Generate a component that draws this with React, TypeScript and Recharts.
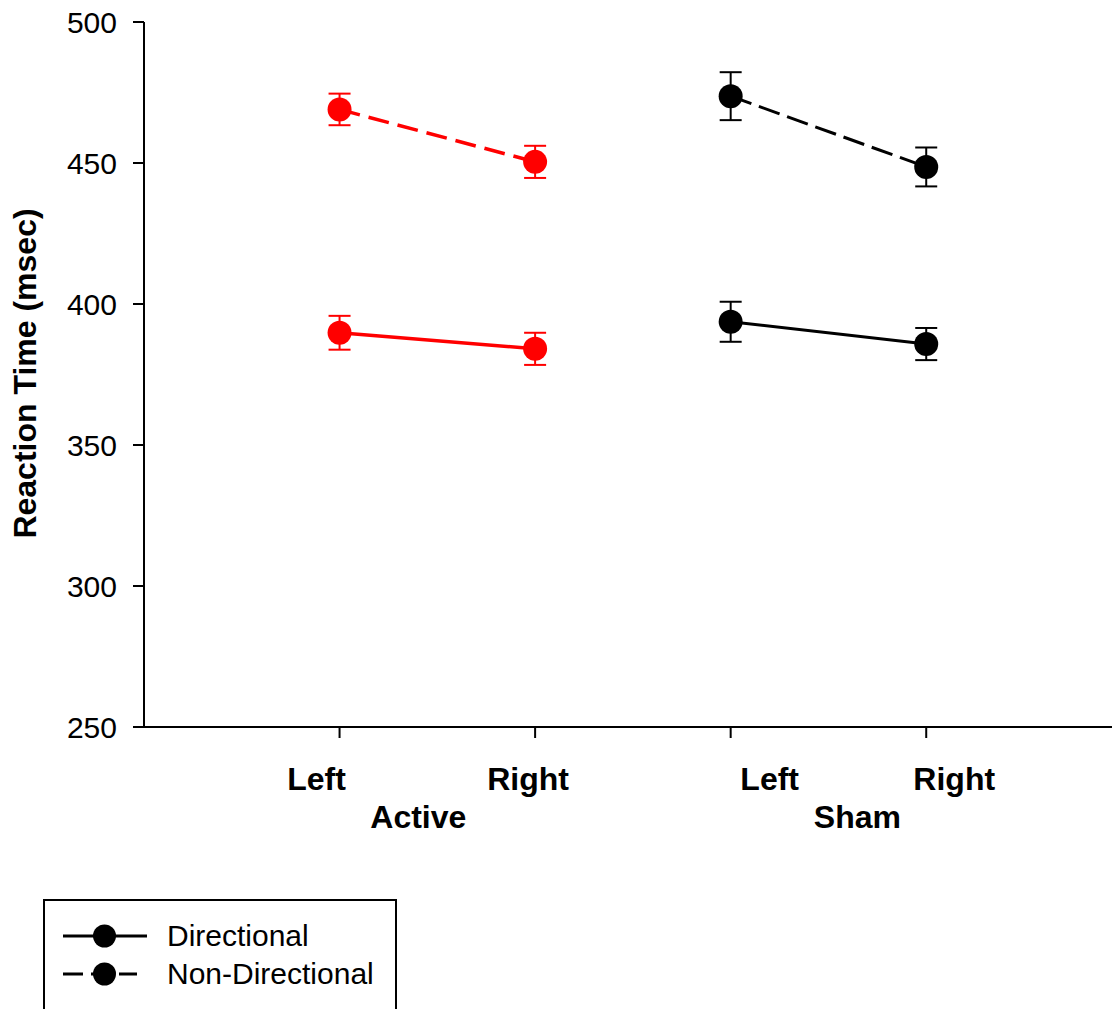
import React from 'react';
import { LineChart, Line, XAxis, YAxis, ErrorBar, Legend } from 'recharts';

// x positions of the four conditions (Active L/R, Sham L/R)
const conditions = [1, 2, 3, 4];
const sideLabels = ['Left', 'Right', 'Left', 'Right'];
const groupTicks = [1.5, 3.5];
const groupLabels = ['Active', 'Sham'];
const yTicks = [250, 300, 350, 400, 450, 500];

// mean reaction time (msec) and error per condition
const directionalRT = [389.8, 384.1, 393.7, 385.8];
const directionalErr = [6.0, 5.7, 7.1, 5.7];
const nonDirectionalRT = [469.0, 450.4, 473.7, 448.6];
const nonDirectionalErr = [5.6, 5.7, 8.5, 6.9];

// the original figure has its tick labels nudged off the ticks
const sideNudge = [-23, -7, 39, 28];
const groupNudge = [-19, 29];

const FONT = '"Liberation Sans", Arial, Helvetica, sans-serif';
const RED = '#ff0000';
const BLACK = '#000000';

const segment = (values: number[], errs: number[], start: number) =>
  [start, start + 1].map((i) => ({ x: conditions[i], rt: values[i], err: errs[i] }));

const activeDir = segment(directionalRT, directionalErr, 0);
const activeNonDir = segment(nonDirectionalRT, nonDirectionalErr, 0);
const shamDir = segment(directionalRT, directionalErr, 2);
const shamNonDir = segment(nonDirectionalRT, nonDirectionalErr, 2);

const legendItems = [
  { label: 'Directional', dash: undefined, end: 102 },
  { label: 'Non-Directional', dash: '20 8', end: 92 },
];

const SideTick = (props: any) => {
  const { x, y, payload } = props;
  const i = conditions.indexOf(payload.value);
  if (i < 0) return null;
  return (
    <text x={x + sideNudge[i]} y={y} dy="0.71em" textAnchor="middle" fontSize={32} fontWeight="bold" fontFamily={FONT} fill={BLACK}>
      {sideLabels[i]}
    </text>
  );
};

const GroupTick = (props: any) => {
  const { x, y, payload } = props;
  const i = groupTicks.indexOf(payload.value);
  if (i < 0) return null;
  return (
    <text x={x + groupNudge[i]} y={y} dy="0.71em" textAnchor="middle" fontSize={32} fontWeight="bold" fontFamily={FONT} fill={BLACK}>
      {groupLabels[i]}
    </text>
  );
};

const YLabel = (props: any) => {
  const { viewBox } = props;
  const cx = viewBox.x + 36;
  const cy = viewBox.y + viewBox.height / 2 - 1;
  return (
    <text x={cx} y={cy} transform={`rotate(-90, ${cx}, ${cy})`} textAnchor="middle" fontSize={32} fontWeight="bold" fontFamily={FONT} fill={BLACK}>
      Reaction Time (msec)
    </text>
  );
};

const renderLegend = () => (
  <div style={{ width: 354, height: 130, border: '2px solid #000', boxSizing: 'border-box', background: '#fff' }}>
    <svg width={350} height={126}>
      {legendItems.map((item, i) => {
        const cy = 35 + i * 38;
        return (
          <g key={item.label}>
            <line x1={18} x2={item.end} y1={cy} y2={cy} stroke={BLACK} strokeWidth={3} strokeDasharray={item.dash} />
            <circle cx={59.5} cy={cy} r={11.5} fill={BLACK} />
            <text x={122} y={cy + 10} fontSize={30} fontFamily={FONT} fill={BLACK}>
              {item.label}
            </text>
          </g>
        );
      })}
    </svg>
  </div>
);

const series = [
  { key: 'activeDir', data: activeDir, color: RED, dash: undefined, width: 3.5 },
  { key: 'activeNonDir', data: activeNonDir, color: RED, dash: '21 9', width: 3.5 },
  { key: 'shamDir', data: shamDir, color: BLACK, dash: undefined, width: 3 },
  { key: 'shamNonDir', data: shamNonDir, color: BLACK, dash: '22 8', width: 3 },
];

export default function App() {
  return (
    <div style={{ position: 'absolute', left: 0, top: 0, width: 1112, height: 1009, overflow: 'hidden', background: '#fff', fontFamily: FONT }}>
      <LineChart width={1112} height={1009} margin={{ top: 22, right: 0, bottom: 182, left: 0 }}>
        <XAxis
          xAxisId="b_group"
          type="number"
          dataKey="x"
          domain={[0, 4.95]}
          ticks={groupTicks}
          allowDataOverflow
          height={60}
          axisLine={false}
          tickLine={false}
          tickSize={0}
          tickMargin={38}
          tick={<GroupTick />}
        />
        <XAxis
          xAxisId="a_side"
          type="number"
          dataKey="x"
          domain={[0, 4.95]}
          ticks={conditions}
          allowDataOverflow
          height={40}
          stroke={BLACK}
          strokeWidth={2}
          tickSize={11}
          tickMargin={29}
          tick={<SideTick />}
        />
        <YAxis
          type="number"
          domain={[250, 500]}
          ticks={yTicks}
          allowDataOverflow
          width={144}
          stroke={BLACK}
          strokeWidth={2}
          tickSize={11}
          tickMargin={16}
          tick={{ fontSize: 30, fill: BLACK, fontFamily: FONT }}
          label={<YLabel />}
        />
        <Legend
          layout="vertical"
          align="center"
          verticalAlign="middle"
          content={renderLegend}
          wrapperStyle={{ left: 43, top: 899, width: 354 }}
        />
        {series.map((s) => (
          <Line
            key={s.key}
            xAxisId="a_side"
            data={s.data}
            dataKey="rt"
            stroke={s.color}
            strokeWidth={s.width}
            strokeDasharray={s.dash}
            dot={{ r: 12, fill: s.color, stroke: 'none', strokeDasharray: 'none' }}
            activeDot={false}
            legendType="none"
            isAnimationActive={false}
          >
            <ErrorBar dataKey="err" direction="y" width={11} stroke={s.color} strokeWidth={2} />
          </Line>
        ))}
      </LineChart>
    </div>
  );
}
